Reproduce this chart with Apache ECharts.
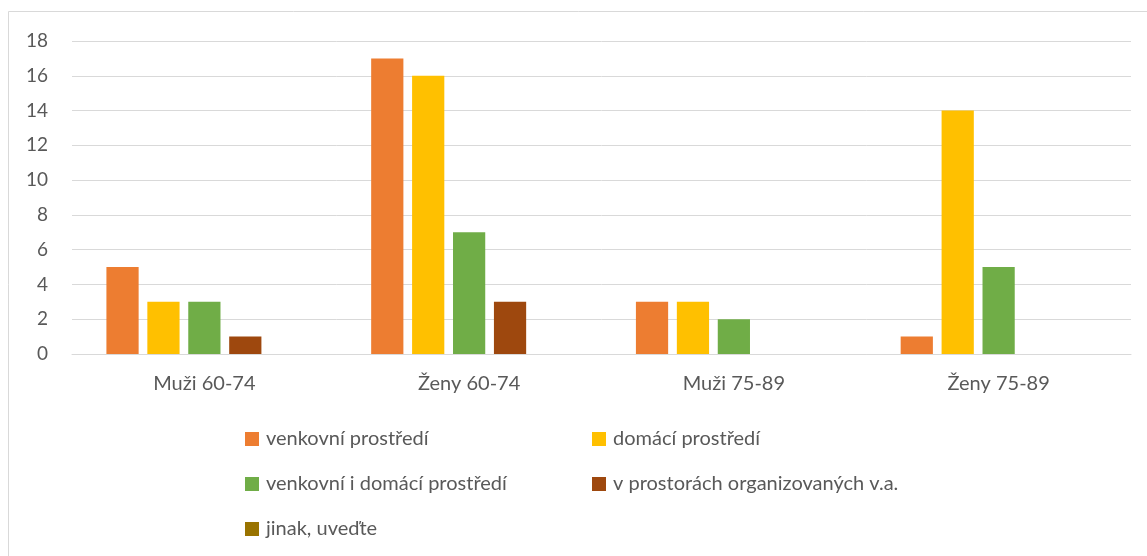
<!DOCTYPE html>
<html>
<head>
<meta charset="utf-8">
<script src="https://cdn.jsdelivr.net/npm/echarts@6/dist/echarts.min.js"></script>
<style>html,body{margin:0;padding:0;background:#fff;}#c{width:1147px;height:556px;}</style>
</head>
<body>
<div id="c"></div>
<script>
const categories = ['Muži 60-74', 'Ženy 60-74', 'Muži 75-89', 'Ženy 75-89'];
const seriesNames = ['venkovní prostředí', 'domácí prostředí', 'venkovní i domácí prostředí', 'v prostorách organizovaných v.a.', 'jinak, uveďte'];
const venkovni = [5, 17, 3, 1];
const domaci = [3, 16, 3, 14];
const venkovniDomaci = [3, 7, 2, 5];
const prostory = [1, 3, 0, 0];
const jinak = [0, 0, 0, 0];
const colors = ['#ED7D31', '#FFC000', '#70AD47', '#9E480E', '#997300'];

const values = [venkovni, domaci, venkovniDomaci, prostory, jinak];
const FONT = 'Lato';
const TXT = '#595959';

const legendPos = [
  {left: 245, top: 429},
  {left: 592, top: 429},
  {left: 245, top: 474},
  {left: 592, top: 474},
  {left: 245, top: 519}
];

const chart = echarts.init(document.getElementById('c'));
chart.setOption({
  animation: false,
  backgroundColor: '#fff',
  graphic: [{
    type: 'rect', shape: {x: 8.5, y: 11.5, width: 1200, height: 700},
    style: {fill: 'none', stroke: '#d9d9d9', lineWidth: 1}, silent: true
  }],
  grid: {left: 72, right: 16, top: 41, bottom: 202},
  legend: seriesNames.map((n, i) => ({
    data: [n], left: legendPos[i].left, top: legendPos[i].top, padding: 0,
    icon: 'rect', itemWidth: 14, itemHeight: 14, itemGap: 4,
    textStyle: {fontFamily: FONT, fontSize: 20, lineHeight: 20, color: TXT, padding: [0, 0, 0, 2]},
    selectedMode: false
  })),
  xAxis: {
    type: 'category', data: categories,
    axisLine: {lineStyle: {color: '#d9d9d9'}},
    axisTick: {show: false},
    axisLabel: {fontFamily: FONT, fontSize: 20, color: TXT, margin: 20}
  },
  yAxis: {
    type: 'value', min: 0, max: 18, interval: 2,
    axisLine: {show: false}, axisTick: {show: false},
    splitLine: {lineStyle: {color: '#d9d9d9'}},
    axisLabel: {fontFamily: FONT, fontSize: 19, color: TXT, margin: 24}
  },
  series: seriesNames.map((n, i) => ({
    name: n, type: 'bar', data: values[i],
    itemStyle: {color: colors[i]},
    barGap: '27%', barCategoryGap: '26%'
  }))
});
</script>
</body>
</html>
